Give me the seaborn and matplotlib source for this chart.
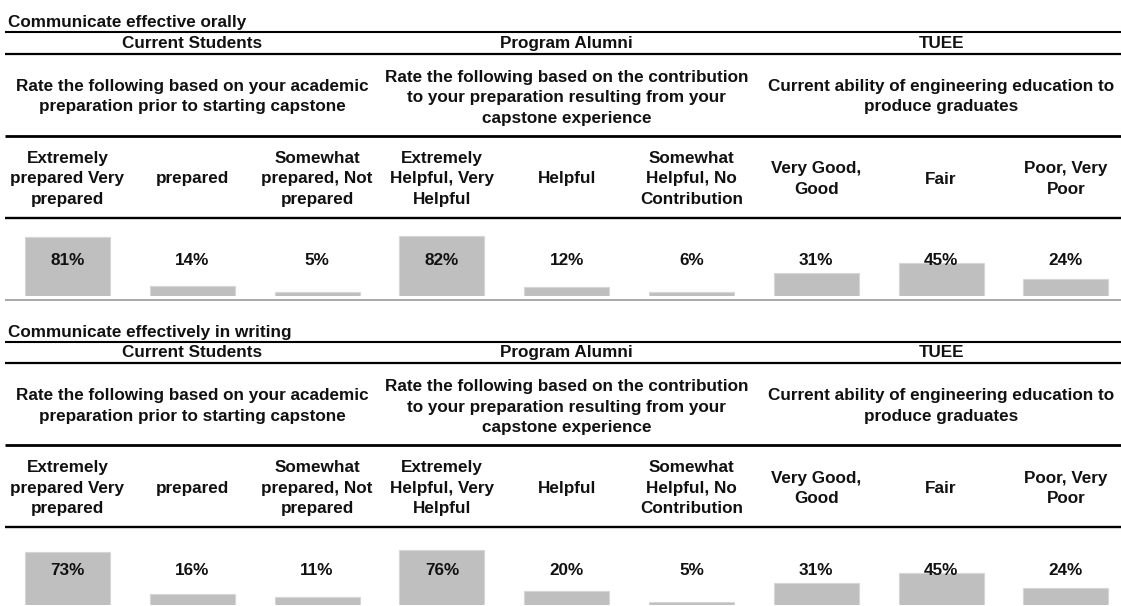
import pandas as pd
import matplotlib
matplotlib.use("Agg")
import matplotlib.pyplot as plt
import matplotlib.transforms as mtransforms
from matplotlib.lines import Line2D
import seaborn as sns

# ---- data -------------------------------------------------------------
section_titles = ["Communicate effective orally", "Communicate effectively in writing"]
groups = ["Current Students", "Program Alumni", "TUEE"]
questions = [
    "Rate the following based on your academic\npreparation prior to starting capstone",
    "Rate the following based on the contribution\nto your preparation resulting from your\ncapstone experience",
    "Current ability of engineering education to\nproduce graduates",
]
categories = [
    "Extremely\nprepared Very\nprepared",
    "prepared",
    "Somewhat\nprepared, Not\nprepared",
    "Extremely\nHelpful, Very\nHelpful",
    "Helpful",
    "Somewhat\nHelpful, No\nContribution",
    "Very Good,\nGood",
    "Fair",
    "Poor, Very\nPoor",
]
orally_pct = [81, 14, 5, 82, 12, 6, 31, 45, 24]
writing_pct = [73, 16, 11, 76, 20, 5, 31, 45, 24]

# ---- styling ----------------------------------------------------------
sns.set_theme(style="white")
plt.rcParams["font.family"] = ["Liberation Sans", "DejaVu Sans"]

W, H = 1121, 606
TXT = "#111111"
BAR = "#bfbfbf"
FS = 12.3
LSP = 1.46

fig = plt.figure(figsize=(W / 100, H / 100), dpi=100)
fig.patch.set_facecolor("white")

# transform: x in pixels from left, y in pixels from top
px = mtransforms.Affine2D().scale(1 / W, -1 / H).translate(0, 1) + fig.transFigure

pitch, first = 124.8, 67.5
xlim = (-first / pitch, (W - first) / pitch)
step = 309.3


def hline(y, lw, color="black"):
    fig.add_artist(Line2D([5, W], [y, y], transform=px, lw=lw, color=color,
                          solid_capstyle="butt"))


for s, (title, values) in enumerate(zip(section_titles, [orally_pct, writing_pct])):
    o = s * step

    ax = fig.add_axes([0, 1 - (296 + o) / H, 1, 72.8 / H])
    df = pd.DataFrame({"category": categories, "pct": values})
    sns.barplot(data=df, x="category", y="pct", order=categories, color=BAR,
                saturation=1, width=0.68, edgecolor="#d6d6d6", linewidth=0.8,
                errorbar=None, ax=ax)
    ax.set_xlim(*xlim)
    ax.set_ylim(0, 100)
    ax.axis("off")

    colx = mtransforms.blended_transform_factory(ax.transData, px)

    fig.text(7.5, 22.8 + o, title, transform=px, ha="left", va="center",
             fontsize=FS, fontweight="bold", color=TXT)
    hline(32.4 + o, 1.5)

    for g, (grp, q) in enumerate(zip(groups, questions)):
        c = 3 * g + 1
        ax.text(c, 43.5 + o, grp, transform=colx, ha="center", va="center",
                fontsize=FS, fontweight="bold", color=TXT, clip_on=False)
        q_y = 97.8 if q.count("\n") == 2 else 96.5
        ax.text(c, q_y + o, q, transform=colx, ha="center", va="center",
                multialignment="center", linespacing=LSP,
                fontsize=FS, fontweight="bold", color=TXT, clip_on=False)
    hline(53.8 + o, 1.6)
    hline(135.8 + o, 2.0)

    for i, (cat, v) in enumerate(zip(categories, values)):
        ax.text(i, 179 + o, cat, transform=colx, ha="center", va="center",
                multialignment="center", linespacing=LSP,
                fontsize=FS, fontweight="bold", color=TXT, clip_on=False)
        ax.text(i, 260.8 + o, f"{v}%", transform=colx, ha="center", va="center",
                fontsize=FS, fontweight="bold", color=TXT, clip_on=False)
    hline(218 + o, 1.7)
    hline(299.6 + o, 1.2, color="#9a9a9a")

fig.savefig("out.png", dpi=100, facecolor="white")
